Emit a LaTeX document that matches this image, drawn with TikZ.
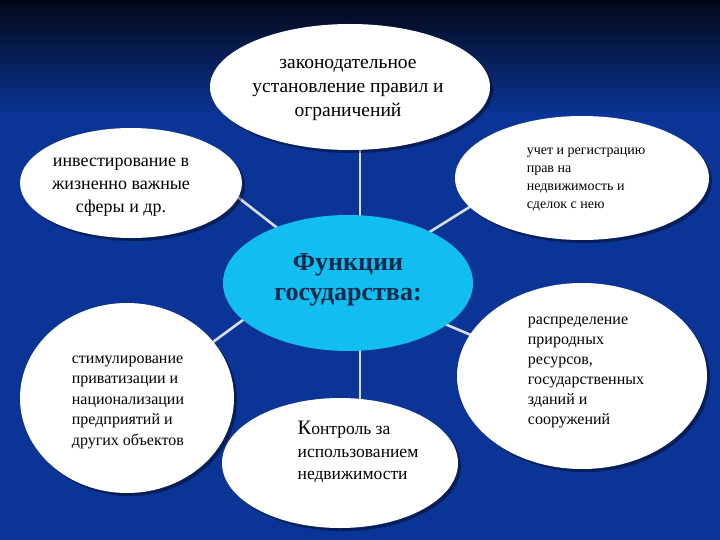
\documentclass[tikz,border=0pt]{standalone}
\usepackage{fontspec}
\setmainfont{Liberation Serif}
\usetikzlibrary{shapes.geometric,shadows,calc}
\definecolor{bgblue}{RGB}{10,52,150}
\definecolor{bgtop}{RGB}{3,8,24}
\definecolor{cyanc}{RGB}{18,190,240}
\definecolor{navytxt}{RGB}{12,40,75}
\definecolor{spokec}{RGB}{215,222,235}
\pgfdeclarelayer{bgl}
\pgfdeclarelayer{spokel}
\pgfsetlayers{bgl,spokel,main}
\tikzset{
  oval/.style={ellipse, fill=white, inner sep=0pt, drop shadow={opacity=0.4, shadow xshift=3pt, shadow yshift=-3pt, fill=black}},
  centeroval/.style={ellipse, fill=cyanc, inner sep=0pt},
  spoke/.style={draw=spokec, line width=2.6pt},
  txt/.style={inner sep=0pt, text=black},
}
\begin{document}
\begin{tikzpicture}[x=1pt,y=-1pt]
\begin{pgfonlayer}{bgl}
\fill[bgblue] (0,0) rectangle (720,540);
\shade[top color=bgtop, bottom color=bgblue] (0,0) rectangle (720,115);
\end{pgfonlayer}
\useasboundingbox (0,0) rectangle (720,540);

\node[oval, minimum width=280pt, minimum height=126pt] (t) at (350,87) {};
\node[oval, minimum width=222pt, minimum height=110pt] (ul) at (131,183) {};
\node[oval, minimum width=254pt, minimum height=124pt] (ur) at (582,178) {};
\node[oval, minimum width=214pt, minimum height=190pt] (ll) at (127,398) {};
\node[oval, minimum width=250pt, minimum height=186pt] (lr) at (582,376) {};
\node[oval, minimum width=236pt, minimum height=130pt] (b) at (340,463) {};
\node[centeroval, minimum width=250pt, minimum height=136pt] (c) at (348,283) {};

\begin{pgfonlayer}{spokel}
\draw[spoke] ([xshift=12pt]c.center) -- ([xshift=10pt]t.center);
\draw[spoke] ([xshift=12pt]c.center) -- ([xshift=20pt]b.center);
\draw[spoke] (c.center) -- ([shift={(68,-16)}]ul.center);
\draw[spoke] (c.center) -- ([shift={(-82,10)}]ur.center);
\draw[spoke] ([shift={(-48,-5)}]c.center) -- ([shift={(33,-17)}]ll.center);
\draw[spoke] (c.center) -- ([shift={(-52,-16)}]lr.center);
\end{pgfonlayer}

\node[txt, align=center, font=\fontsize{19.5}{24}\selectfont] (tt) at (348,90)
  {законодательное\\установление правил и\\ограничений};
\node[txt, align=center, font=\fontsize{18}{23}\selectfont] (ult) at (121,187)
  {инвестирование в\\жизненно важные\\сферы и др.};
\node[txt, align=left, font=\fontsize{14}{18}\selectfont] (urt) at (586,180)
  {учет и регистрацию\\прав на\\недвижимость и\\сделок с нею};
\node[txt, align=center, font=\fontsize{26}{30}\selectfont\bfseries, text=navytxt] (ct) at (348,280)
  {Функции\\государства:};
\node[txt, align=left, font=\fontsize{16}{20.5}\selectfont] (llt) at (128,402)
  {стимулирование\\приватизации и\\национализации\\предприятий и\\других объектов};
\node[txt, align=left, font=\fontsize{16}{20}\selectfont] (lrt) at (586,372)
  {распределение\\природных\\ресурсов,\\государственных\\зданий и\\сооружений};
\node[txt, align=left, font=\fontsize{17.5}{22.5}\selectfont] (bt) at (358,452)
  {{\fontsize{20.5}{22.5}\selectfont К}онтроль за\\использованием\\недвижимости};
\end{tikzpicture}
\end{document}
